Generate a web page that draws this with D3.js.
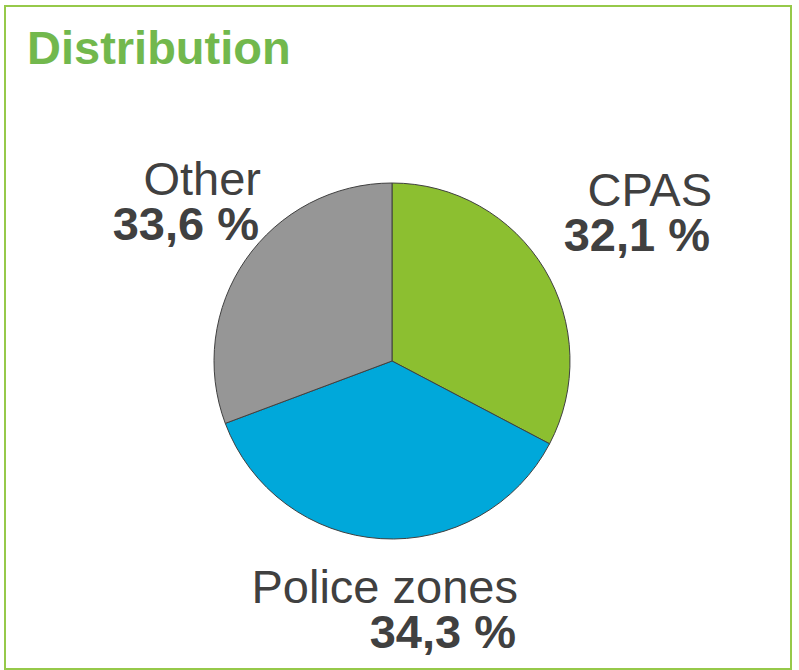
<!DOCTYPE html>
<html>

<head>
    <meta charset="utf-8">
    <title>Distribution</title>
    <script src="https://d3js.org/d3.v7.min.js"></script>
    <style>
        body {
            margin: 0;
            background: #fff;
        }

        text {
            font-family: "Liberation Sans", Arial, sans-serif;
        }
    </style>
</head>

<body>
    <div id="chart"></div>

    <script>
        // slices as drawn in the picture (clockwise from 12 o'clock)
        const categories = ["CPAS", "Police zones", "Other"];
        const sliceValues = [32.7, 36.6, 30.7];
        const percentLabels = ["32,1 %", "34,3 %", "33,6 %"];
        const colors = ["#8cbf30", "#00a8da", "#969696"];

        const width = 799, height = 670;
        const cx = 392, cy = 361, radius = 178;

        // where each label block is anchored (right edge, first baseline)
        const labelPos = {
            "CPAS": [712, 206],
            "Police zones": [518, 603],
            "Other": [261, 195]
        };

        const svg = d3.select("#chart")
            .append("svg")
            .attr("width", width)
            .attr("height", height);

        // frame
        svg.append("rect")
            .attr("x", 5)
            .attr("y", 6)
            .attr("width", 786)
            .attr("height", 663)
            .attr("fill", "none")
            .attr("stroke", "#96c94a")
            .attr("stroke-width", 2);

        svg.append("text")
            .attr("x", 27)
            .attr("y", 64)
            .attr("fill", "#72b84d")
            .style("font-size", "47px")
            .style("font-weight", "bold")
            .text("Distribution");

        const pie = d3.pie().sort(null).value(d => d)(sliceValues);
        const arc = d3.arc().innerRadius(0).outerRadius(radius);

        const g = svg.append("g")
            .attr("transform", `translate(${cx},${cy})`);

        g.selectAll("path")
            .data(pie)
            .join("path")
            .attr("d", arc)
            .attr("fill", (d, i) => colors[i])
            .attr("stroke", "#404040")
            .attr("stroke-width", 1);

        // labels
        categories.forEach((c, i) => {
            const [x, y] = labelPos[c];
            const t = svg.append("text")
                .attr("text-anchor", "end")
                .attr("fill", "#404040")
                .style("font-size", "47px");
            t.append("tspan")
                .attr("x", x)
                .attr("y", y)
                .text(c);
            t.append("tspan")
                .attr("x", x - 2)
                .attr("y", y + 45)
                .style("font-weight", "bold")
                .text(percentLabels[i]);
        });
    </script>
</body>

</html>
